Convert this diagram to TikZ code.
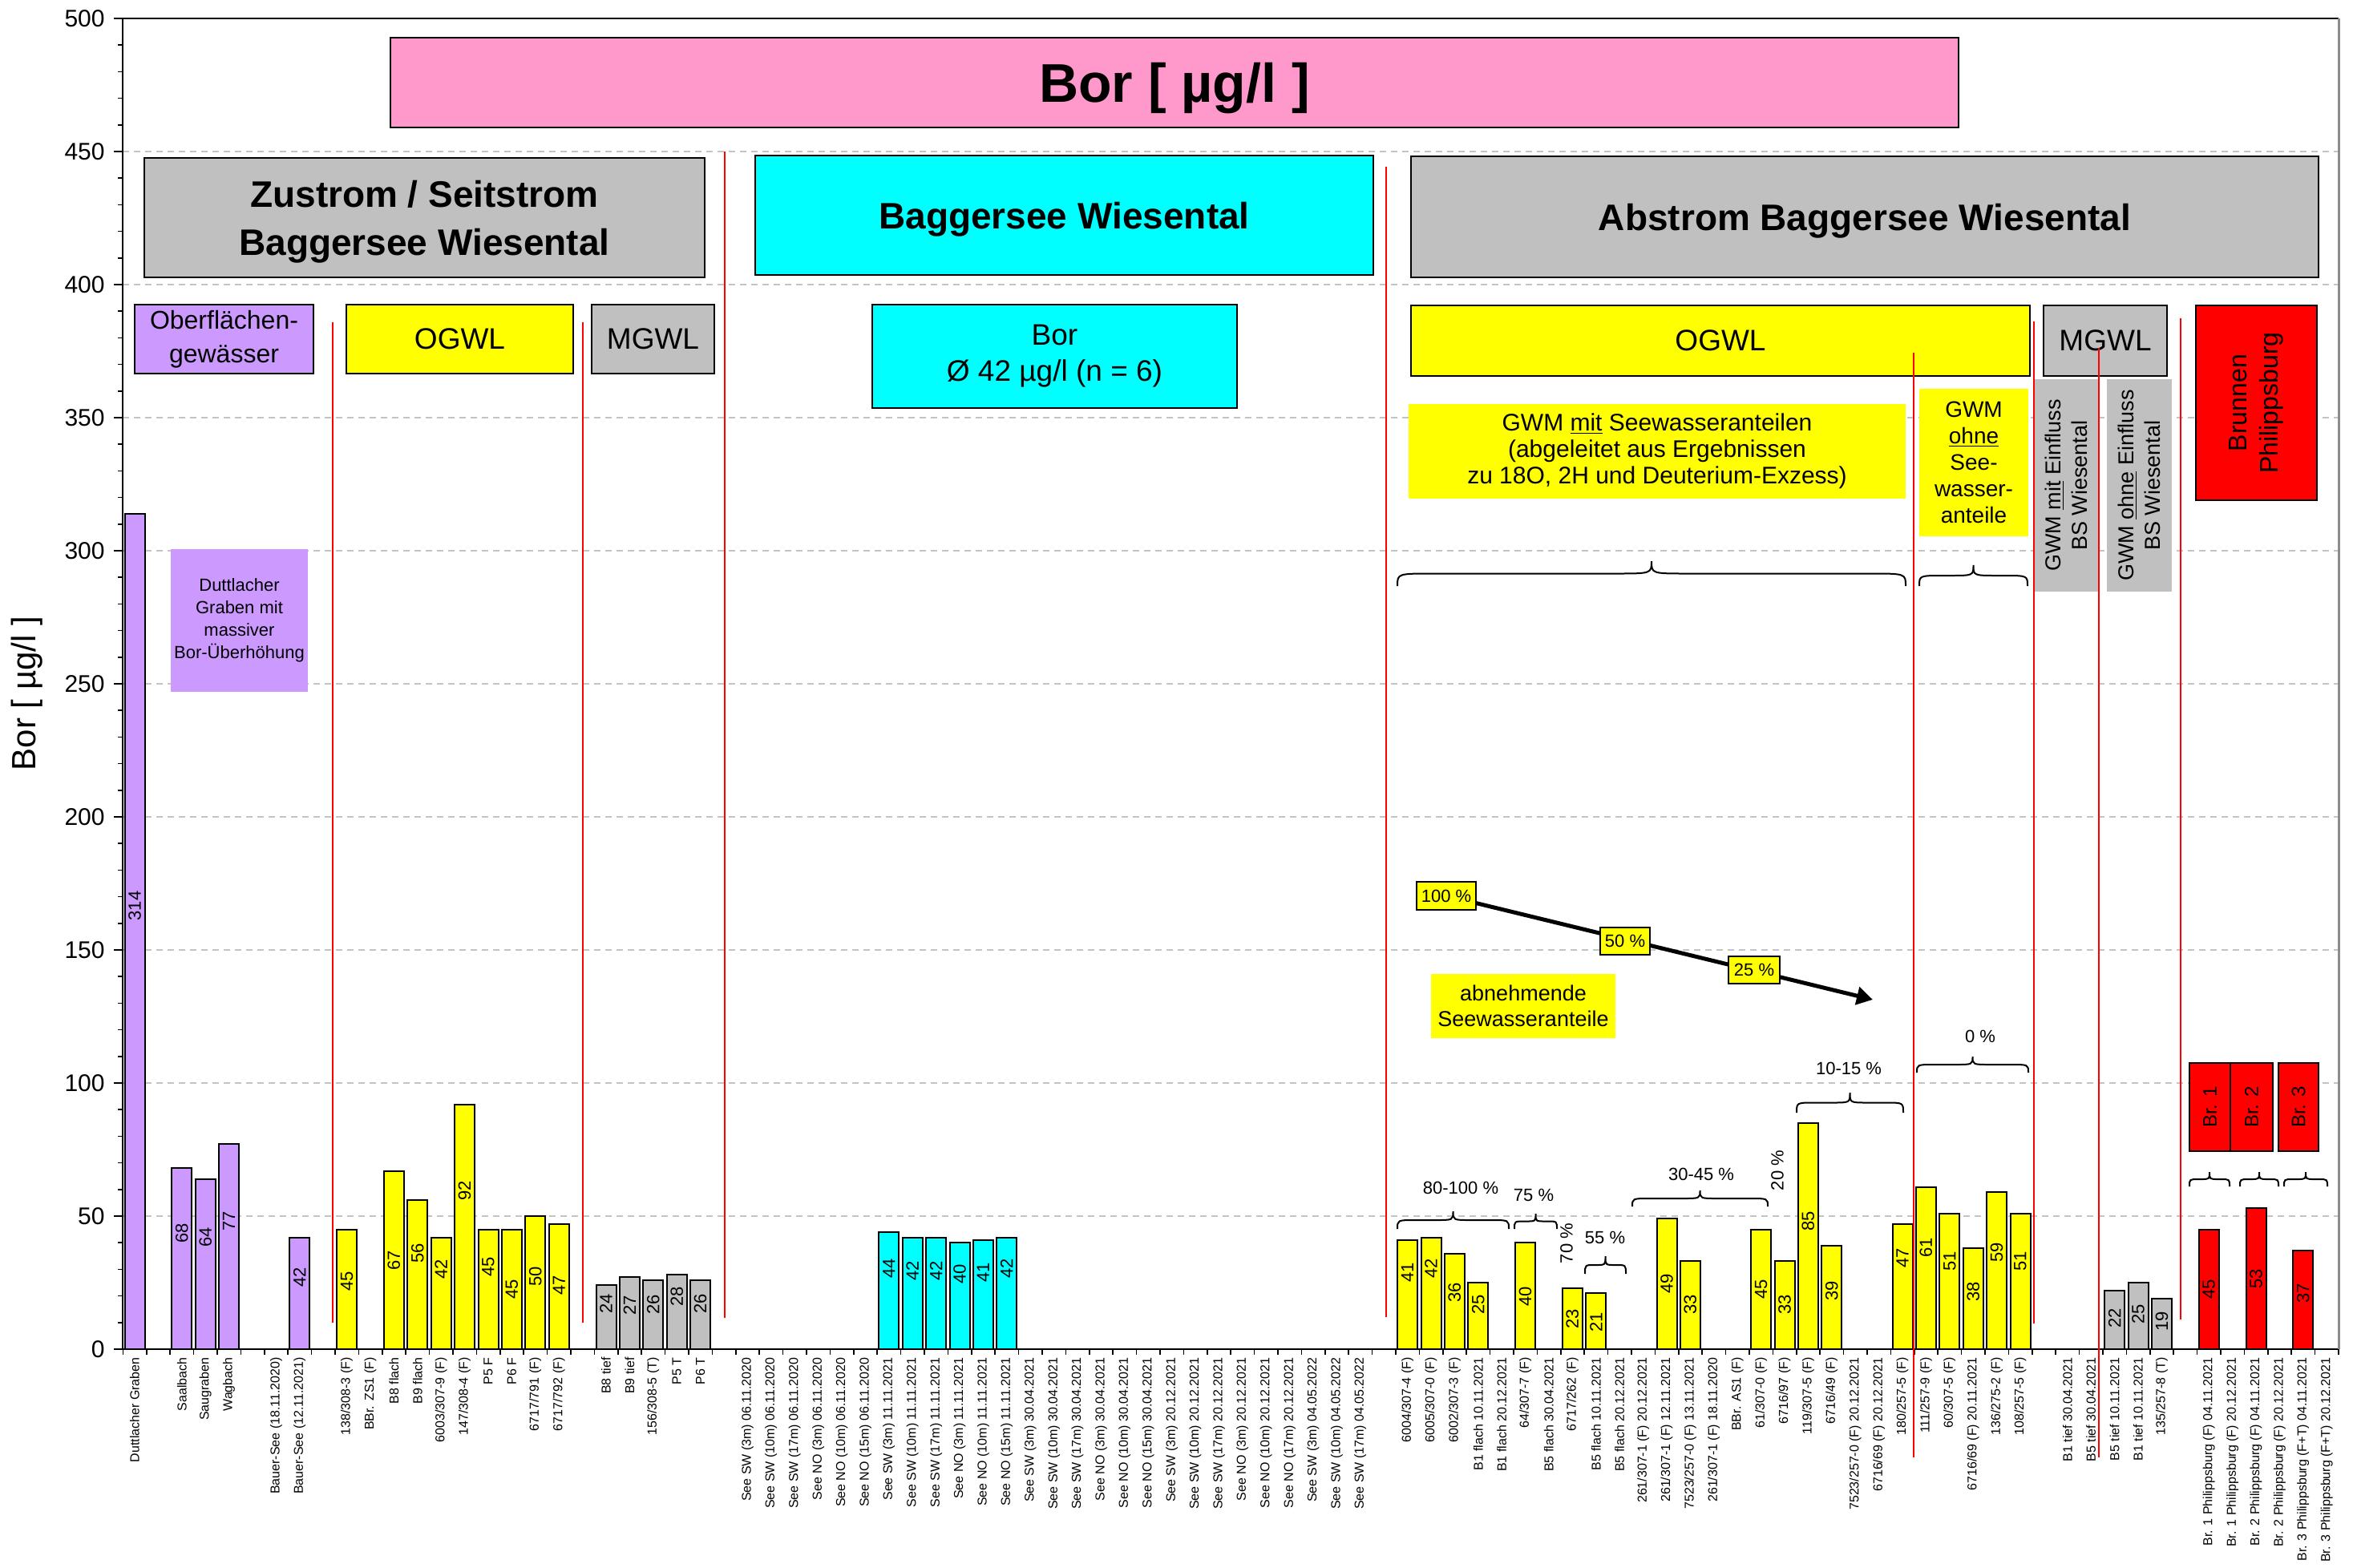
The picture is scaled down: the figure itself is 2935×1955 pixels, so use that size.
\documentclass[tikz,border=0pt]{standalone}
\usepackage{fontspec}
\setmainfont{Liberation Sans}
\usetikzlibrary{arrows.meta}

\definecolor{lila}{HTML}{CC99FF}
\definecolor{gelb}{HTML}{FFFF00}
\definecolor{grau}{HTML}{C0C0C0}
\definecolor{tuerkis}{HTML}{00FFFF}
\definecolor{rot}{HTML}{FF0000}
\definecolor{rosa}{HTML}{FF99CC}
\definecolor{gitter}{HTML}{C4C4C4}
\definecolor{randgrau}{HTML}{8C8C8C}

\pgfdeclarelayer{grund}
\pgfdeclarelayer{raster}
\pgfdeclarelayer{hinten}
\pgfsetlayers{grund,raster,hinten,main}

\newcommand\fs[2]{\fontsize{#1}{#2}\selectfont}
% x position of the centre of category #1
\newcommand\catx[1]{153.3+(#1-0.5)*29.4}
% y position of a boron value
\newcommand\wert[1]{1683-3.32*#1}
% bar: index, value, colour, y of the value label
\newcommand\balken[4]{%
  \path[barbox,fill=#3] ({\catx{#1}-12.5},1683) rectangle ({\catx{#1}+12.5},{\wert{#2}});
  \node[vallabel] (w#1) at ({\catx{#1}},#4) {#2};}
% category label below the axis
\newcommand\kat[2]{\node[catlabel] (c#1) at ({\catx{#1}},1693) {#2};}
% box given by its corners: name, x1, y1, x2, y2, style, text
\newcommand\kasten[7]{\node[#6, minimum width={0.5*(#4-#2)}, minimum height={0.5*(#5-#3)}]
  (#1) at ({(#2+#4)/2},{(#3+#5)/2}) {#7};}
% same with text turned by 90 degrees
\newcommand\kastenR[7]{\node[#6, rotate=90, minimum width={0.5*(#5-#3)}, minimum height={0.5*(#4-#2)}]
  (#1) at ({(#2+#4)/2},{(#3+#5)/2}) {#7};}
% curly brace opening downwards: left, right, base y, height, end radius
\newcommand\klammer[5]{%
  \draw[line width=1pt]
    (#1,#3) .. controls (#1,{#3-#4/2}) .. ({#1+#5},{#3-#4/2})
    -- ({(#1+#2)/2-#5},{#3-#4/2}) .. controls ({(#1+#2)/2},{#3-#4/2}) .. ({(#1+#2)/2},{#3-#4})
    .. controls ({(#1+#2)/2},{#3-#4/2}) .. ({(#1+#2)/2+#5},{#3-#4/2})
    -- ({#2-#5},{#3-#4/2}) .. controls (#2,{#3-#4/2}) .. (#2,#3);}

\begin{document}
\begin{tikzpicture}[x=0.5pt,y=-0.5pt,
  every node/.style={inner sep=0pt},
  barbox/.style={draw=black,line width=1pt},
  vallabel/.style={rotate=90,font=\fs{11}{12}},
  catlabel/.style={rotate=90,anchor=east,font=\fs{8}{9}},
  gitterlinie/.style={draw=gitter,line width=0.6pt,dash pattern=on 4pt off 3pt},
  trenner/.style={draw=rot,line width=1pt},
  rahmen/.style={draw=black,line width=1.2pt,align=center},
  feld/.style={align=center},
  prozent/.style={font=\fs{11}{13}},
  kopf/.style={rahmen,font=\fs{23}{30}\bfseries,text depth=0pt},
]
\useasboundingbox (0,0) rectangle (2935,1955);
\begin{pgfonlayer}{grund}
\fill[white] (0,0) rectangle (2935,1955);
\end{pgfonlayer}

% horizontal grid
\begin{pgfonlayer}{raster}
\foreach \v in {50,100,...,450}
  \draw[gitterlinie] (153.3,{\wert{\v}}) -- (2917,{\wert{\v}});
\end{pgfonlayer}

% value axis with ticks and labels
\foreach \v in {10,20,...,490}
  \draw[line width=0.8pt] (147,{\wert{\v}}) -- (153.3,{\wert{\v}});
\foreach \v in {0,50,...,500}{
  \draw[line width=0.8pt] (142,{\wert{\v}}) -- (153.3,{\wert{\v}});
  \node[anchor=east,font=\fs{15}{18}] (t\v) at (131,{\wert{\v}}) {\v};}
\node[rotate=90,font=\fs{21}{24}] (achse) at (34,865) {Bor [ µg/l ]};

% category ticks
\foreach \i in {0,...,94}
  \draw[line width=0.8pt] ({153.3+\i*29.4},1683) -- ({153.3+\i*29.4},1690);

% bars: surface waters
\balken{1}{314}{lila}{1130}
\balken{3}{68}{lila}{1538}
\balken{4}{64}{lila}{1543}
\balken{5}{77}{lila}{1523}
\balken{8}{42}{lila}{1593}
% upper aquifer, inflow
\balken{10}{45}{gelb}{1598}
\balken{12}{67}{gelb}{1572}
\balken{13}{56}{gelb}{1563}
\balken{14}{42}{gelb}{1583}
\balken{15}{92}{gelb}{1485}
\balken{16}{45}{gelb}{1580}
\balken{17}{45}{gelb}{1608}
\balken{18}{50}{gelb}{1592}
\balken{19}{47}{gelb}{1603}
% middle aquifer, inflow
\balken{21}{24}{grau}{1626}
\balken{22}{27}{grau}{1628}
\balken{23}{26}{grau}{1627}
\balken{24}{28}{grau}{1617}
\balken{25}{26}{grau}{1626}
% lake
\balken{33}{44}{tuerkis}{1582}
\balken{34}{42}{tuerkis}{1585}
\balken{35}{42}{tuerkis}{1585}
\balken{36}{40}{tuerkis}{1589}
\balken{37}{41}{tuerkis}{1587}
\balken{38}{42}{tuerkis}{1582}
% upper aquifer, outflow
\balken{55}{41}{gelb}{1587}
\balken{56}{42}{gelb}{1582}
\balken{57}{36}{gelb}{1612}
\balken{58}{25}{gelb}{1627}
\balken{60}{40}{gelb}{1617}
\balken{62}{23}{gelb}{1645}
\balken{63}{21}{gelb}{1649}
\balken{66}{49}{gelb}{1601}
\balken{67}{33}{gelb}{1627}
\balken{70}{45}{gelb}{1608}
\balken{71}{33}{gelb}{1627}
\balken{72}{85}{gelb}{1523}
\balken{73}{39}{gelb}{1610}
\balken{76}{47}{gelb}{1569}
\balken{77}{61}{gelb}{1556}
\balken{78}{51}{gelb}{1573}
\balken{79}{38}{gelb}{1611}
\balken{80}{59}{gelb}{1562}
\balken{81}{51}{gelb}{1573}
% middle aquifer, outflow
\balken{85}{22}{grau}{1644}
\balken{86}{25}{grau}{1639}
\balken{87}{19}{grau}{1648}
% wells Philippsburg
\balken{89}{45}{rot}{1608}
\balken{91}{53}{rot}{1595}
\balken{93}{37}{rot}{1613}

% frame
\draw[line width=1pt] (153.3,23) -- (153.3,1683) -- (2917,1683);
\draw[line width=1pt] (153.3,23) -- (2917,23);
\draw[draw=randgrau,line width=1.5pt] (2917,23) -- (2917,1683);

% category labels
\kat{1}{Duttlacher Graben}
\kat{3}{Saalbach}
\kat{4}{Saugraben}
\kat{5}{Wagbach}
\kat{7}{Bauer-See (18.11.2020)}
\kat{8}{Bauer-See (12.11.2021)}
\kat{10}{138/308-3 (F)}
\kat{11}{BBr. ZS1 (F)}
\kat{12}{B8 flach}
\kat{13}{B9 flach}
\kat{14}{6003/307-9 (F)}
\kat{15}{147/308-4 (F)}
\kat{16}{P5 F}
\kat{17}{P6 F}
\kat{18}{6717/791 (F)}
\kat{19}{6717/792 (F)}
\kat{21}{B8 tief}
\kat{22}{B9 tief}
\kat{23}{156/308-5 (T)}
\kat{24}{P5 T}
\kat{25}{P6 T}
\kat{27}{See SW (3m) 06.11.2020}
\kat{28}{See SW (10m) 06.11.2020}
\kat{29}{See SW (17m) 06.11.2020}
\kat{30}{See NO (3m) 06.11.2020}
\kat{31}{See NO (10m) 06.11.2020}
\kat{32}{See NO (15m) 06.11.2020}
\kat{33}{See SW (3m) 11.11.2021}
\kat{34}{See SW (10m) 11.11.2021}
\kat{35}{See SW (17m) 11.11.2021}
\kat{36}{See NO (3m) 11.11.2021}
\kat{37}{See NO (10m) 11.11.2021}
\kat{38}{See NO (15m) 11.11.2021}
\kat{39}{See SW (3m) 30.04.2021}
\kat{40}{See SW (10m) 30.04.2021}
\kat{41}{See SW (17m) 30.04.2021}
\kat{42}{See NO (3m) 30.04.2021}
\kat{43}{See NO (10m) 30.04.2021}
\kat{44}{See NO (15m) 30.04.2021}
\kat{45}{See SW (3m) 20.12.2021}
\kat{46}{See SW (10m) 20.12.2021}
\kat{47}{See SW (17m) 20.12.2021}
\kat{48}{See NO (3m) 20.12.2021}
\kat{49}{See NO (10m) 20.12.2021}
\kat{50}{See NO (17m) 20.12.2021}
\kat{51}{See SW (3m) 04.05.2022}
\kat{52}{See SW (10m) 04.05.2022}
\kat{53}{See SW (17m) 04.05.2022}
\kat{55}{6004/307-4 (F)}
\kat{56}{6005/307-0 (F)}
\kat{57}{6002/307-3 (F)}
\kat{58}{B1 flach 10.11.2021}
\kat{59}{B1 flach 20.12.2021}
\kat{60}{64/307-7 (F)}
\kat{61}{B5 flach 30.04.2021}
\kat{62}{6717/262 (F)}
\kat{63}{B5 flach 10.11.2021}
\kat{64}{B5 flach 20.12.2021}
\kat{65}{261/307-1 (F) 20.12.2021}
\kat{66}{261/307-1 (F) 12.11.2021}
\kat{67}{7523/257-0 (F) 13.11.2021}
\kat{68}{261/307-1 (F) 18.11.2020}
\kat{69}{BBr. AS1 (F)}
\kat{70}{61/307-0 (F)}
\kat{71}{6716/97 (F)}
\kat{72}{119/307-5 (F)}
\kat{73}{6716/49 (F)}
\kat{74}{7523/257-0 (F) 20.12.2021}
\kat{75}{6716/69 (F) 20.12.2021}
\kat{76}{180/257-5 (F)}
\kat{77}{111/257-9 (F)}
\kat{78}{60/307-5 (F)}
\kat{79}{6716/69 (F) 20.11.2021}
\kat{80}{136/275-2 (F)}
\kat{81}{108/257-5 (F)}
\kat{83}{B1 tief 30.04.2021}
\kat{84}{B5 tief 30.04.2021}
\kat{85}{B5 tief 10.11.2021}
\kat{86}{B1 tief 10.11.2021}
\kat{87}{135/257-8 (T)}
\kat{89}{Br. 1 Philippsburg (F) 04.11.2021}
\kat{90}{Br. 1 Philippsburg (F) 20.12.2021}
\kat{91}{Br. 2 Philippsburg (F) 04.11.2021}
\kat{92}{Br. 2 Philippsburg (F) 20.12.2021}
\kat{93}{Br. 3 Philippsburg (F+T) 04.11.2021}
\kat{94}{Br. 3 Philippsburg (F+T) 20.12.2021}

% headings
\kasten{titel}{487}{47}{2443}{159}{rahmen,fill=rosa,font=\fs{34}{40}\bfseries,text depth=0pt}{Bor [ µg/l ]}
\kasten{zustrom}{180}{197}{879}{346}{kopf,fill=grau}{Zustrom / Seitstrom\\Baggersee Wiesental}
\kasten{see}{942}{194}{1713}{343}{kopf,fill=tuerkis}{Baggersee Wiesental}
\kasten{abstrom}{1760}{195}{2892}{346}{kopf,fill=grau}{Abstrom Baggersee Wiesental}

\kasten{ofw}{168}{380}{391}{466}{rahmen,fill=lila,font=\fs{16}{21}}{Oberflächen-\\gewässer}
\kasten{ogwlA}{432}{380}{715}{466}{rahmen,fill=gelb,font=\fs{18.5}{22}}{OGWL}
\kasten{mgwlA}{738}{380}{891}{466}{rahmen,fill=grau,font=\fs{18.5}{22}}{MGWL}
\kasten{borSee}{1088}{380}{1543}{509}{rahmen,fill=tuerkis,font=\fs{18.5}{22.5}}{Bor\\Ø 42 µg/l (n = 6)}
\kasten{ogwlB}{1760}{381}{2532}{469}{rahmen,fill=gelb,font=\fs{18.5}{22}}{OGWL}
\kasten{mgwlB}{2549}{381}{2703}{469}{rahmen,fill=grau,font=\fs{18.5}{22}}{MGWL}
\kastenR{brunnen}{2739}{381}{2890}{624}{rahmen,fill=rot,font=\fs{16}{19.5}}{Brunnen\\Philippsburg}

% notes
\kasten{dutt}{213}{685}{384}{863}{feld,fill=lila,font=\fs{11}{14}}{Duttlacher\\Graben mit\\massiver\\Bor-Überhöhung}
\kasten{gwmMit}{1757}{504}{2377}{622}{feld,fill=gelb,font=\fs{15}{16.5}}{GWM \underline{mit} Seewasseranteilen\\(abgeleitet aus Ergebnissen\\zu 18O, 2H und Deuterium-Exzess)}
\kasten{gwmOhne}{2394}{485}{2530}{669}{feld,fill=gelb,font=\fs{14}{16.5}}{GWM\\\underline{ohne}\\See-\\wasser-\\anteile}
\kastenR{einflMit}{2537}{473}{2617}{738}{feld,fill=grau,font=\fs{13.5}{16.5}}{GWM \underline{mit} Einfluss\\BS Wiesental}
\kastenR{einflOhne}{2628}{473}{2709}{738}{feld,fill=grau,font=\fs{13.5}{16.5}}{GWM \underline{ohne} Einfluss\\BS Wiesental}
\kasten{abnehm}{1785}{1215}{2015}{1295}{feld,fill=gelb,font=\fs{13.5}{16}}{abnehmende\\Seewasseranteile}

% decreasing share of lake water
\kasten{p100}{1767}{1100}{1841}{1135}{rahmen,line width=1pt,fill=gelb,font=\fs{11}{13}}{100 \%}
\kasten{p50}{1996}{1157}{2058}{1191}{rahmen,line width=1pt,fill=gelb,font=\fs{11}{13}}{50 \%}
\kasten{p25}{2156}{1193}{2220}{1227}{rahmen,line width=1pt,fill=gelb,font=\fs{11}{13}}{25 \%}
\coordinate (spitze) at (2336,1247);
\begin{pgfonlayer}{hinten}
\draw[line width=2.5pt,-{Triangle[length=10pt,width=11pt]}] (p100.center) -- (spitze);
\end{pgfonlayer}

% wells
\kastenR{br1}{2731}{1326}{2782}{1436}{rahmen,fill=rot,font=\fs{12}{14}}{Br. 1}
\kastenR{br2}{2782}{1326}{2835}{1436}{rahmen,fill=rot,font=\fs{12}{14}}{Br. 2}
\kastenR{br3}{2842}{1326}{2892}{1436}{rahmen,fill=rot,font=\fs{12}{14}}{Br. 3}

% group separators
\draw[trenner] (415,402) -- (415,1650);
\draw[trenner] (727,402) -- (727,1650);
\draw[trenner] (904,189) -- (904,1644);
\draw[trenner] (1729,208) -- (1729,1643);
\draw[trenner] (2387,440) -- (2387,1818);
\draw[trenner] (2537,401) -- (2537,1651);
\draw[trenner] (2618,434) -- (2618,1818);
\draw[trenner] (2720,397) -- (2720,1646);

% braces
\klammer{1743}{2377}{731}{31}{45}
\klammer{2394}{2529}{731}{26}{30}
\klammer{1743}{1882}{1533}{22}{22}
\klammer{1889}{1942}{1533}{19}{12}
\klammer{1977}{2028}{1589}{22}{12}
\klammer{2036}{2205}{1505}{20}{22}
\klammer{2241}{2374}{1388}{25}{22}
\klammer{2391}{2530}{1338}{20}{22}
\klammer{2731}{2781}{1480}{18}{11}
\klammer{2794}{2842}{1480}{18}{11}
\klammer{2849}{2903}{1480}{18}{11}

% shares of lake water
\node[prozent] (q1) at (1822,1482) {80-100 \%};
\node[prozent] (q2) at (1913,1491) {75 \%};
\node[prozent,rotate=90] (q3) at (1954,1551) {70 \%};
\node[prozent] (q4) at (2002,1544) {55 \%};
\node[prozent] (q5) at (2122,1465) {30-45 \%};
\node[prozent,rotate=90] (q6) at (2217,1460) {20 \%};
\node[prozent] (q7) at (2306,1333) {10-15 \%};
\node[prozent] (q8) at (2470,1293) {0 \%};
\end{tikzpicture}
\end{document}
